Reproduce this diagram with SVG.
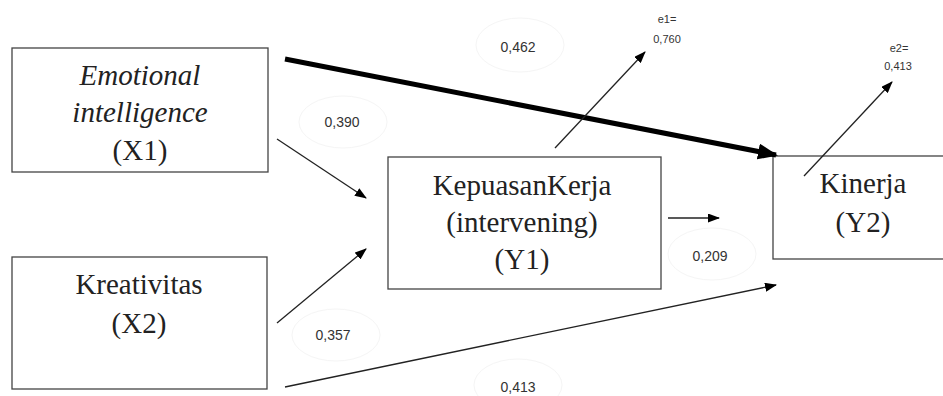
<svg xmlns="http://www.w3.org/2000/svg" width="943" height="396" viewBox="0 0 943 396">
<defs>
<marker id="ah" markerWidth="12" markerHeight="9" refX="11" refY="4.5" orient="auto" markerUnits="userSpaceOnUse">
<path d="M0,0 L12,4.5 L0,9 Z" fill="#000"/>
</marker>
<marker id="ahb" markerWidth="20" markerHeight="16" refX="18" refY="8" orient="auto" markerUnits="userSpaceOnUse">
<path d="M0,0 L20,8 L0,16 Z" fill="#000"/>
</marker>
</defs>
<style>
.box{fill:#fff;stroke:#444;stroke-width:1.3}
.t{font-family:"Liberation Serif","Times New Roman",serif;font-size:29px;fill:#222;text-anchor:middle}
.i{font-style:italic}
.lab{font-family:"Liberation Sans",Arial,sans-serif;font-size:14px;fill:#333;text-anchor:middle}
.sm{font-family:"Liberation Sans",Arial,sans-serif;font-size:11px;fill:#333;text-anchor:middle}
.ell{fill:none;stroke:#f5f5f5;stroke-width:1}
.c{stroke:#222;stroke-width:1.3;fill:none}
.thick{stroke:#000;stroke-width:5}
</style>
<rect width="943" height="396" fill="#fff"/>
<g id="X1">
<rect class="box" x="12" y="48" width="256" height="124"/>
<text class="t i" x="140" y="85">Emotional</text>
<text class="t i" x="140" y="122">intelligence</text>
<text class="t" x="140" y="160">(X1)</text>
</g>
<g id="X2">
<rect class="box" x="12" y="257" width="255" height="132"/>
<text class="t" x="139" y="294">Kreativitas</text>
<text class="t" x="139" y="333">(X2)</text>
</g>
<g id="Y1">
<rect class="box" x="388" y="157" width="273" height="132"/>
<text class="t" x="522" y="195">KepuasanKerja</text>
<text class="t" x="522" y="232">(intervening)</text>
<text class="t" x="522" y="269">(Y1)</text>
</g>
<g id="Y2">
<rect class="box" x="773" y="156" width="180" height="103"/>
<text class="t" x="863" y="193">Kinerja</text>
<text class="t" x="863" y="232">(Y2)</text>
</g>
<g id="connectors">
<line class="c thick" x1="285" y1="59" x2="776" y2="155" marker-end="url(#ahb)"/>
<line class="c" x1="277" y1="139" x2="366" y2="198" marker-end="url(#ah)"/>
<line class="c" x1="277" y1="323" x2="366" y2="249" marker-end="url(#ah)"/>
<line class="c" x1="668" y1="218" x2="719" y2="218" marker-end="url(#ah)"/>
<line class="c" x1="285" y1="387" x2="776" y2="285" marker-end="url(#ah)"/>
<line class="c" x1="555" y1="148" x2="645" y2="52" marker-end="url(#ah)"/>
<line class="c" x1="804" y1="176" x2="892" y2="82" marker-end="url(#ah)"/>
</g>
<g id="labels">
<ellipse class="ell" cx="520" cy="45" rx="44" ry="27"/>
<text class="lab" x="518" y="52">0,462</text>
<text class="sm" x="667" y="23">e1=</text>
<text class="sm" x="667" y="43">0,760</text>
<text class="sm" x="899" y="52">e2=</text>
<text class="sm" x="898" y="70">0,413</text>
<ellipse class="ell" cx="343" cy="122" rx="44" ry="26"/>
<text class="lab" x="342" y="127">0,390</text>
<ellipse class="ell" cx="336" cy="335" rx="44" ry="26"/>
<text class="lab" x="333" y="340">0,357</text>
<ellipse class="ell" cx="518" cy="385" rx="44" ry="26"/>
<text class="lab" x="518" y="392">0,413</text>
<ellipse class="ell" cx="712" cy="254" rx="44" ry="26"/>
<text class="lab" x="710" y="261">0,209</text>
</g>
</svg>
